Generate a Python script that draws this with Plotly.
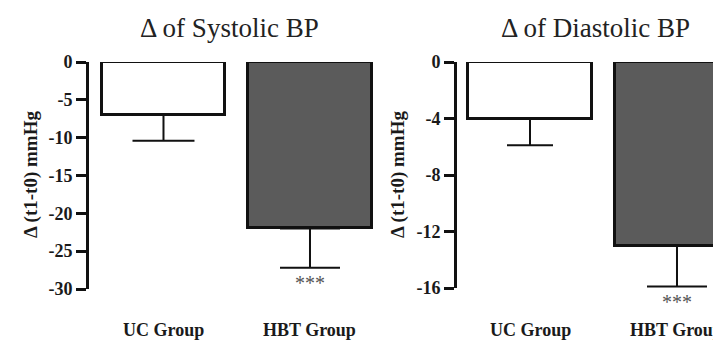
import plotly.graph_objects as go

# ---- data ----
groups = ["UC Group", "HBT Group"]
sys_mean = [-7.0, -22.0]
sys_sem = [3.4, 5.2]
dia_mean = [-4.0, -13.0]
dia_sem = [1.9, 2.9]
sys_ticks = [0, -5, -10, -15, -20, -25, -30]
dia_ticks = [0, -4, -8, -12, -16]
fills = ["#ffffff", "#5b5b5b"]
sig = ["", "***"]

W, H = 713, 340
SERIF = "Liberation Serif"

fig = go.Figure()

caps_sys = [31, 30]
caps_dia = [23, 30]
for i in range(2):
    fig.add_trace(go.Bar(
        x=[i], y=[sys_mean[i]], width=0.84, xaxis="x", yaxis="y",
        marker=dict(color=fills[i], line=dict(color="#111", width=3)),
        error_y=dict(type="data", symmetric=False, array=[0], arrayminus=[sys_sem[i]],
                     color="#111", thickness=2, width=caps_sys[i]),
        showlegend=False, hoverinfo="skip"))
    fig.add_trace(go.Bar(
        x=[i], y=[dia_mean[i]], width=0.843, xaxis="x2", yaxis="y2",
        marker=dict(color=fills[i], line=dict(color="#111", width=3)),
        error_y=dict(type="data", symmetric=False, array=[0], arrayminus=[dia_sem[i]],
                     color="#111", thickness=2, width=caps_dia[i]),
        showlegend=False, hoverinfo="skip"))

yax = dict(showgrid=False, zeroline=False, showline=True, linecolor="#111", linewidth=3,
           ticks="outside", tickwidth=3, ticklen=10, tickcolor="#111", automargin=False,
           tickfont=dict(family=SERIF, size=18, color="#1a1a1a", weight="bold"))

fig.update_layout(
    width=W, height=H, margin=dict(l=0, r=0, t=0, b=0, autoexpand=False),
    paper_bgcolor="white", plot_bgcolor="white",
    xaxis=dict(domain=[89 / W, 385 / W], range=[-0.5085, 1.512], visible=False, automargin=False),
    xaxis2=dict(domain=[457 / W, 1.0], range=[-0.4966, 1.245], visible=False, automargin=False),
    yaxis=dict(domain=[1 - 289 / H, 1 - 62 / H], range=[-30, 0], tickvals=sys_ticks,
               ticktext=[str(v) for v in sys_ticks], **yax),
    yaxis2=dict(domain=[1 - 288 / H, 1 - 62 / H], range=[-16, 0], tickvals=dia_ticks,
                ticktext=[str(v) for v in dia_ticks], anchor="x2", **yax),
    bargap=0,
)

ann = []
# titles
for xc, t in [(229, "Δ of Systolic BP"), (595, "Δ of Diastolic BP")]:
    ann.append(dict(text=t, x=xc / W, y=1 - 28 / H, xref="paper", yref="paper",
                    xanchor="center", yanchor="middle", showarrow=False,
                    font=dict(family=SERIF, size=27, color="#222")))
# y titles
for xc in [31, 398]:
    ann.append(dict(text="Δ (t1-t0) mmHg", x=xc / W, y=1 - 175 / H, xref="paper", yref="paper",
                    xanchor="center", yanchor="middle", textangle=-90, showarrow=False,
                    font=dict(family=SERIF, size=19, color="#1a1a1a", weight="bold")))
# category labels
for ax in ["x", "x2"]:
    for i, g in enumerate(groups):
        ann.append(dict(text=g, x=i, y=1 - 330 / H, xref=ax, yref="paper",
                        xanchor="center", yanchor="middle", showarrow=False,
                        font=dict(family=SERIF, size=18, color="#1a1a1a", weight="bold")))
# significance stars
for ax, yr, m, s in [("x", "y", sys_mean, sys_sem), ("x2", "y2", dia_mean, dia_sem)]:
    for i in range(2):
        if sig[i]:
            ann.append(dict(text=sig[i], x=i, y=m[i] - s[i], xref=ax, yref=yr,
                            xanchor="center", yanchor="top", yshift=-2, showarrow=False,
                            font=dict(family=SERIF, size=20, color="#555")))
fig.update_layout(annotations=ann)

fig.write_html("out.html", config={"displayModeBar": False},
               post_script="document.body.style.margin='0';document.body.style.overflow='hidden';")
